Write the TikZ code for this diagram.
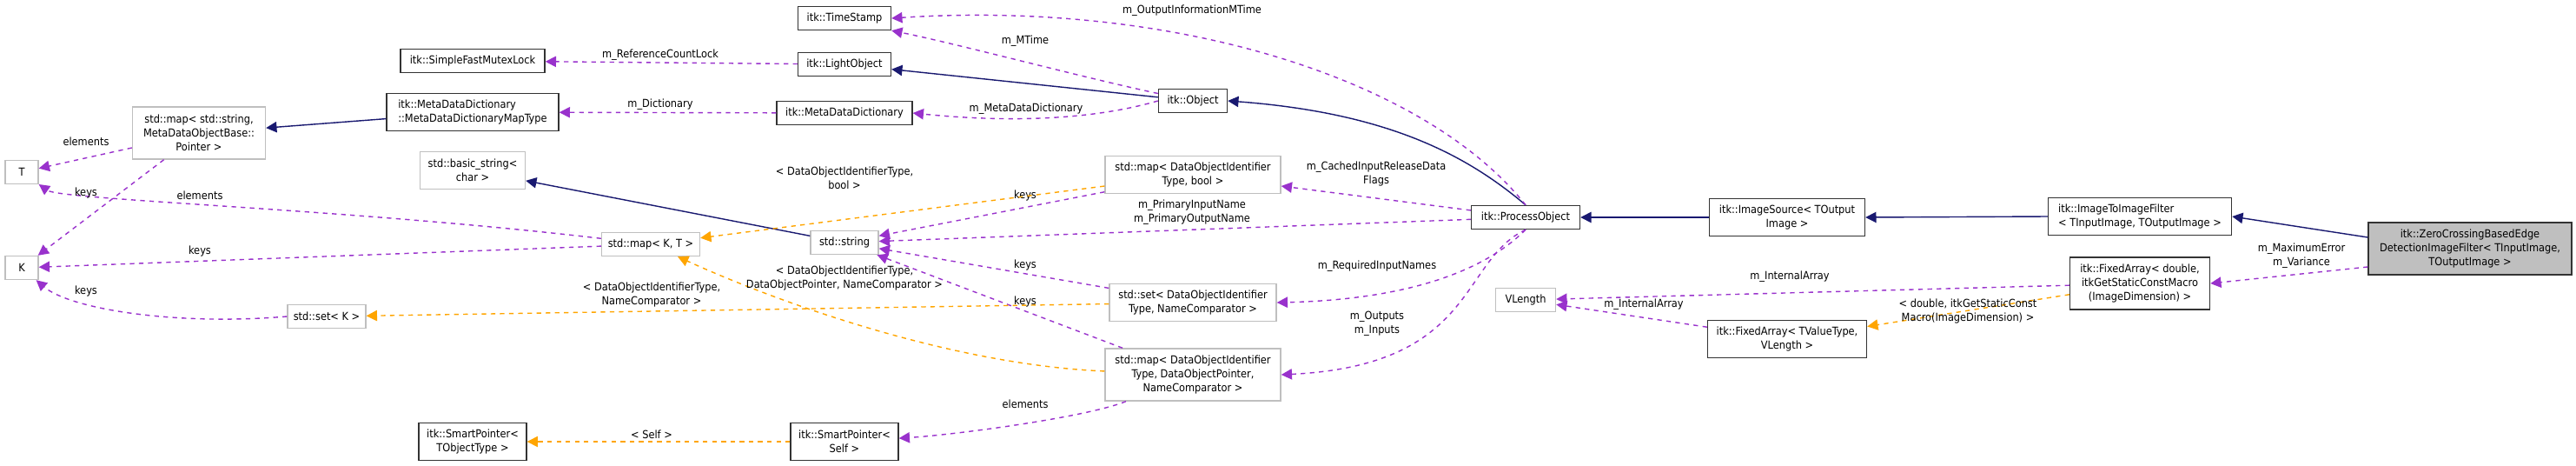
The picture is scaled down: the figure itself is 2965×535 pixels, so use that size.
\documentclass[tikz,border=0pt]{standalone}
\usepackage{fontspec}
\setmainfont{DejaVu Sans Condensed}
\usetikzlibrary{arrows.meta}
\definecolor{navy}{RGB}{25,25,112}
\definecolor{orchid}{RGB}{153,50,204}
\definecolor{tmpl}{RGB}{255,165,0}
\tikzset{
  cls/.style={draw=black!80, thick, font=\fontsize{7.2}{9}\selectfont, align=center, inner sep=1pt},
  ext/.style={cls, draw=black!25},
  main/.style={cls, fill=black!25},
  one/.style={minimum height=0.54cm},
  two/.style={minimum height=0.86cm},
  three/.style={minimum height=1.2cm},
  inh/.style={navy, thick, -{Triangle[length=7pt,width=7pt]}},
  use/.style={orchid, thick, dashed, -{Triangle[length=7pt,width=7pt]}},
  tpl/.style={tmpl, thick, dashed, -{Triangle[length=7pt,width=7pt]}},
  lbl/.style={font=\fontsize{7.2}{9}\selectfont, align=center, text=black, inner sep=1pt}
}
\begin{document}
\begin{tikzpicture}[x=0.02cm,y=-0.02cm]
\useasboundingbox (0,0) rectangle (2965,535);
% classes
\node[cls, one, minimum width=3.32cm] (mutex) at (544,70) {itk::SimpleFastMutexLock};
\node[cls, two, minimum width=3.96cm, align=left] (mapty) at (544,129) {itk::MetaDataDictionary\\::MetaDataDictionaryMapType};
\node[ext, three, minimum width=3.06cm] (mapstr) at (229,153) {std::map< std::string,\\ MetaDataObjectBase::\\Pointer >};
\node[ext, one, minimum width=0.76cm] (T) at (25,198) {T};
\node[ext, one, minimum width=0.76cm] (K) at (25,308) {K};
\node[ext, two, minimum width=2.42cm] (bstr) at (544,196) {std::basic\_string<\\char >};
\node[ext, one, minimum width=2.26cm] (mapkt) at (749,281) {std::map< K, T >};
\node[ext, one, minimum width=1.8cm] (setk) at (376,364) {std::set< K >};
\node[cls, two, minimum width=2.48cm] (sptmpl) at (544,508) {itk::SmartPointer<\\TObjectType >};
\node[cls, one, minimum width=2.14cm] (tstamp) at (972,21) {itk::TimeStamp};
\node[cls, one, minimum width=2.14cm] (light) at (972,74) {itk::LightObject};
\node[cls, one, minimum width=3.12cm] (mdd) at (972,130) {itk::MetaDataDictionary};
\node[cls, one, minimum width=1.58cm] (obj) at (1373,116) {itk::Object};
\node[ext, two, minimum width=4.04cm] (mapbool) at (1373,201) {std::map< DataObjectIdentifier\\Type, bool >};
\node[ext, one, minimum width=1.56cm] (str) at (972,279) {std::string};
\node[ext, two, minimum width=3.84cm] (setnc) at (1373,348) {std::set< DataObjectIdentifier\\Type, NameComparator >};
\node[ext, three, minimum width=4.04cm] (mapdop) at (1373,431) {std::map< DataObjectIdentifier\\Type, DataObjectPointer,\\ NameComparator >};
\node[cls, two, minimum width=2.48cm] (spself) at (972,508) {itk::SmartPointer<\\Self >};
\node[cls, one, minimum width=2.5cm] (proc) at (1756,250) {itk::ProcessObject};
\node[cls, two, minimum width=3.58cm] (isrc) at (2057,250) {itk::ImageSource< TOutput\\Image >};
\node[ext, one, minimum width=1.38cm] (vlen) at (1756,345) {VLength};
\node[cls, two, minimum width=3.66cm] (fatv) at (2057,390) {itk::FixedArray< TValueType,\\VLength >};
\node[cls, two, minimum width=4.22cm, align=left] (i2i) at (2463,249) {itk::ImageToImageFilter\\< TInputImage, TOutputImage >};
\node[cls, three, minimum width=3.22cm] (fadbl) at (2463,326) {itk::FixedArray< double,\\itkGetStaticConstMacro\\(ImageDimension) >};
\node[main, three, minimum width=4.68cm] (zc) at (2843,286) {itk::ZeroCrossingBasedEdge\\DetectionImageFilter< TInputImage,\\TOutputImage >};
% inheritance
\draw[inh] (mapty) -- (mapstr);
\draw[inh] (obj) -- (light);
\draw[inh] (proc.north) .. controls (1690,180) and (1600,130) .. (obj.east);
\draw[inh] (str) -- (bstr);
\draw[inh] (isrc) -- (proc);
\draw[inh] (i2i.west) -- (isrc.east);
\draw[inh] ([yshift=0.26cm]zc.west) -- (i2i.east);
% members
\draw[use] (light) -- (mutex) node[lbl] at (760,63) {m\_ReferenceCountLock};
\draw[use] (mdd) -- (mapty) node[lbl] at (760,120) {m\_Dictionary};
\draw[use] (obj) .. controls (1250,90) and (1100,50) .. (tstamp.south east) node[lbl] at (1180,47) {m\_MTime};
\draw[use] (proc.north) .. controls (1640,90) and (1350,0) .. (tstamp.east) node[lbl] at (1372,12) {m\_OutputInformationMTime};
\draw[use] (obj.west) .. controls (1250,140) and (1150,140) .. (mdd.east) node[lbl] at (1181,125) {m\_MetaDataDictionary};
\draw[use] (mapstr) -- (T) node[lbl] at (99,163) {elements};
\draw[use] (mapstr) -- (K);
\draw[use] (mapkt) .. controls (400,240) and (70,230) .. (T) node[lbl] at (230,225) {elements};
\node[lbl] (kl1) at (99,222) {keys};
\draw[use] (mapkt) -- (K) node[lbl] at (230,289) {keys};
\draw[use] (setk.west) .. controls (200,375) and (80,355) .. (K) node[lbl] at (99,335) {keys};
\draw[use] (mapbool) -- (str) node[lbl] at (1180,225) {keys};
\draw[use] (proc) -- (str) node[lbl] at (1372,244) {m\_PrimaryInputName\\m\_PrimaryOutputName};
\draw[use] (setnc) -- (str) node[lbl] at (1180,305) {keys};
\draw[use] (mapdop) -- (str) node[lbl] at (1180,347) {keys};
\draw[use] (proc) -- (mapbool) node[lbl] at (1584,200) {m\_CachedInputReleaseData\\Flags};
\draw[use] (proc.south) .. controls (1700,320) and (1600,345) .. (setnc.east) node[lbl] at (1585,306) {m\_RequiredInputNames};
\draw[use] (proc.south) .. controls (1680,300) and (1700,420) .. (mapdop.east) node[lbl] at (1585,372) {m\_Outputs\\m\_Inputs};
\draw[use] (mapdop) .. controls (1250,480) and (1100,500) .. (spself) node[lbl] at (1180,465) {elements};
\draw[use] (fadbl) -- (vlen) node[lbl] at (2060,318) {m\_InternalArray};
\draw[use] (fatv) -- (vlen) node[lbl] at (1892,350) {m\_InternalArray};
\draw[use] ([yshift=-0.42cm]zc.west) -- (fadbl.east) node[lbl] at (2649,294) {m\_MaximumError\\m\_Variance};
% template instances
\draw[tpl] (mapbool) -- (mapkt) node[lbl] at (972,205) {< DataObjectIdentifierType,\\bool >};
\draw[tpl] (mapdop) .. controls (1100,420) and (900,350) .. (mapkt) node[lbl] at (972,320) {< DataObjectIdentifierType,\\DataObjectPointer, NameComparator >};
\draw[tpl] (setnc) -- (setk) node[lbl] at (750,339) {< DataObjectIdentifierType,\\NameComparator >};
\draw[tpl] (spself) -- (sptmpl) node[lbl] at (750,500) {< Self >};
\draw[tpl] (fadbl) -- (fatv) node[lbl] at (2265,358) {< double, itkGetStaticConst\\Macro(ImageDimension) >};
\end{tikzpicture}
\end{document}
